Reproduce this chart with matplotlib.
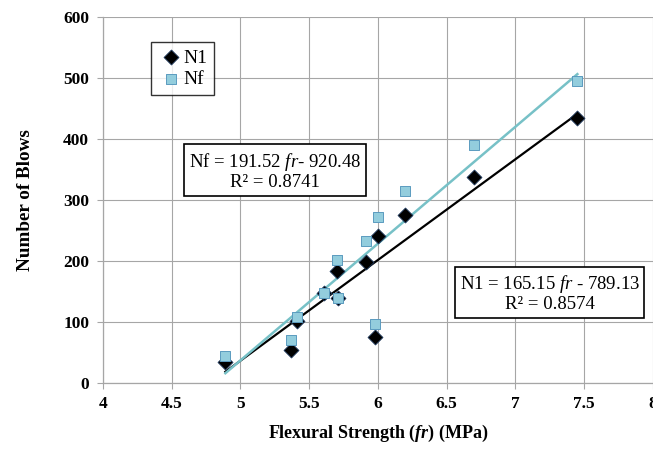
"""Number of blows vs flexural strength, with linear fits for N1 and Nf."""
import matplotlib
matplotlib.use("Agg")
import matplotlib.pyplot as plt
import numpy as np

# first-crack (N1) and failure (Nf) blow counts against flexural strength fr (MPa)
fr = [4.89, 5.37, 5.41, 5.61, 5.70, 5.71, 5.91, 6.00, 5.98, 6.20, 6.70, 7.45]
n1 = [34, 54, 102, 147, 184, 139, 198, 241, 75, 275, 338, 434]
nf = [44, 70, 108, 148, 202, 139, 233, 272, 97, 315, 390, 495]

# reported fit coefficients (slope, intercept)
n1_fit = (165.15, -789.13)
nf_fit = (191.52, -920.48)

x_ticks = [4, 4.5, 5, 5.5, 6, 6.5, 7, 7.5, 8]
y_ticks = [0, 100, 200, 300, 400, 500, 600]

plt.rcParams.update({
    "font.family": "Liberation Serif",
    "mathtext.fontset": "custom",
    "mathtext.rm": "Liberation Serif",
    "mathtext.it": "Liberation Serif:italic",
    "mathtext.bf": "Liberation Serif:bold",
    "mathtext.bfit": "Liberation Serif:italic:bold",
})

SQ_FILL = "#93CDDD"
SQ_EDGE = "#5B9BBF"
LINE_NF = "#77C1C7"
GRID = "#A6A6A6"

fig = plt.figure(figsize=(6.53, 4.57), dpi=100)
ax = fig.add_axes([0.1577, 0.1619, 0.8423, 0.8009])

xs = np.array([min(fr), max(fr)])
ax.plot(xs, n1_fit[0] * xs + n1_fit[1], color="black", lw=1.6, zorder=2)
ax.plot(xs, nf_fit[0] * xs + nf_fit[1], color=LINE_NF, lw=1.8, zorder=2)

ax.scatter(fr, n1, marker="D", s=58, color="black", edgecolors="#1F3A5F",
           linewidths=0.6, zorder=3, label="N1")
ax.scatter(fr, nf, marker="s", s=62, color=SQ_FILL, edgecolors=SQ_EDGE,
           linewidths=0.7, zorder=4, label="Nf")

ax.set_xlim(4, 8)
ax.set_ylim(0, 600)
ax.set_xticks(x_ticks)
ax.set_xticklabels([f"{v:g}" for v in x_ticks])
ax.set_yticks(y_ticks)
ax.tick_params(axis="both", labelsize=12.5, color=GRID, length=4, width=0.8)
for lab in ax.get_xticklabels() + ax.get_yticklabels():
    lab.set_fontweight("bold")
ax.tick_params(axis="x", pad=5)
ax.tick_params(axis="y", pad=6)

ax.grid(True, color=GRID, lw=0.8, zorder=0)
ax.set_axisbelow(True)
for side in ["top", "right"]:
    ax.spines[side].set_visible(False)
for side in ["left", "bottom"]:
    ax.spines[side].set_color(GRID)
    ax.spines[side].set_linewidth(0.9)

ax.set_xlabel(r"Flexural Strength ($\mathbfit{fr}$) (MPa)", fontsize=13,
              fontweight="bold", labelpad=8)
ax.set_ylabel("Number of Blows", fontsize=13.8, fontweight="bold", labelpad=21)

leg = ax.legend(loc="upper left", bbox_to_anchor=(0.07, 0.958), fontsize=14,
                frameon=True, fancybox=False, edgecolor="black",
                handletextpad=0.0, handlelength=1.3, borderpad=0.35,
                labelspacing=0.2, markerscale=1.0)
leg.get_frame().set_linewidth(1.0)

box = dict(boxstyle="square,pad=0.25", facecolor="white", edgecolor="black", lw=1.2)
ax.text(0.313, 0.579, "Nf = 191.52 $\\it{fr}$- 920.48\nR² = 0.8741",
        transform=ax.transAxes, ha="center", va="center", fontsize=13.5,
        linespacing=1.1, bbox=box, zorder=5)
ax.text(0.812, 0.245, "N1 = 165.15 $\\it{fr}$ - 789.13\nR² = 0.8574",
        transform=ax.transAxes, ha="center", va="center", fontsize=13.5,
        linespacing=1.1, bbox=box, zorder=5)

fig.savefig("out.png", dpi=100, facecolor="white")
